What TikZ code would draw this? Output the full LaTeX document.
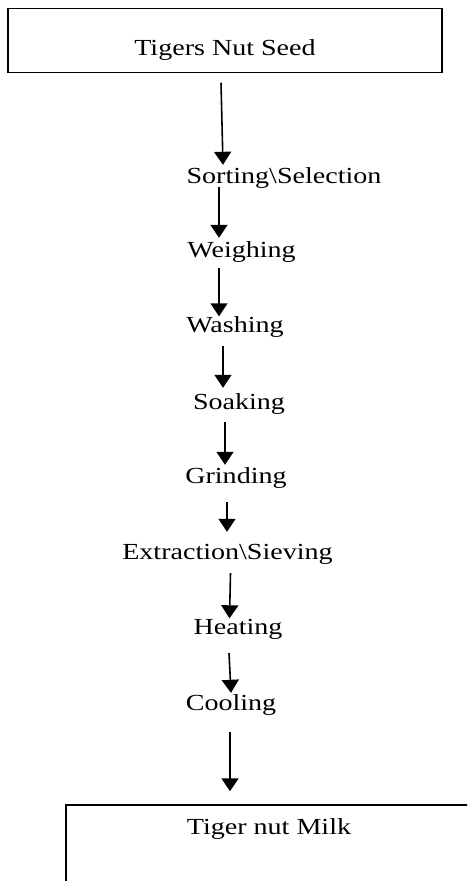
\documentclass[tikz,border=0pt]{standalone}
\usepackage{fontspec}
\setmainfont{Liberation Serif}[FakeStretch=1.22]
\usetikzlibrary{arrows.meta}

\begin{document}
\begin{tikzpicture}[x=1pt, y=-1pt, >={Triangle[width=17pt,length=13pt]},
    font=\fontsize{23}{27}\selectfont,
    flow/.style={->, line width=1.6pt},
    stage/.style={inner sep=0pt, text height=16pt, text depth=5pt, anchor=base},
    box/.style={draw, line width=1.5pt, inner sep=0pt, anchor=base}]
  \clip (0,0) rectangle (467,881);
  \node[box, minimum width=434pt, text height=47pt, text depth=17pt] (seed) at (225,55.5) {Tigers Nut Seed};
  \node[stage] (sort) at (284,183.5) {Sorting\textbackslash Selection};
  \node[stage] (weigh) at (241.5,257.5) {Weighing};
  \node[stage] (wash) at (235,332.5) {Washing};
  \node[stage] (soak) at (239,409.5) {Soaking};
  \node[stage] (grind) at (236,483.5) {Grinding};
  \node[stage] (extract) at (227.5,559.5) {Extraction\textbackslash Sieving};
  \node[stage] (heat) at (238,634.5) {Heating};
  \node[stage] (cool) at (231,710.5) {Cooling};
  \node[box, minimum width=406pt, text height=29.5pt, text depth=70pt] (milk) at (269,834.5) {Tiger nut Milk};
  \draw[flow] ([shift={(-4,9.5)}]seed.south) -- ([shift={(-61,-2.5)}]sort.north);
  \draw[flow] ([shift={(-65,-1.5)}]sort.south) -- ([shift={(-22.5,-3.5)}]weigh.north);
  \draw[flow] ([shift={(-22.5,5.5)}]weigh.south) -- ([shift={(-16,0)}]wash.north);
  \draw[flow] ([shift={(-12,8.5)}]wash.south) -- ([shift={(-16,-5.5)}]soak.north);
  \draw[flow] ([shift={(-14,7.5)}]soak.south) -- ([shift={(-11,-2.5)}]grind.north);
  \draw[flow] ([shift={(-9,13.5)}]grind.south) -- ([shift={(-0.5,-11.5)}]extract.north);
  \draw[flow] ([shift={(3,8.5)}]extract.south) -- ([shift={(-8.5,0)}]heat.north);
  \draw[flow] ([shift={(-9,13.5)}]heat.south) -- ([shift={(0,-1.5)}]cool.north);
  \draw[flow] ([shift={(-1,16.5)}]cool.south) -- ([shift={(-39,-13)}]milk.north);
\end{tikzpicture}
\end{document}
